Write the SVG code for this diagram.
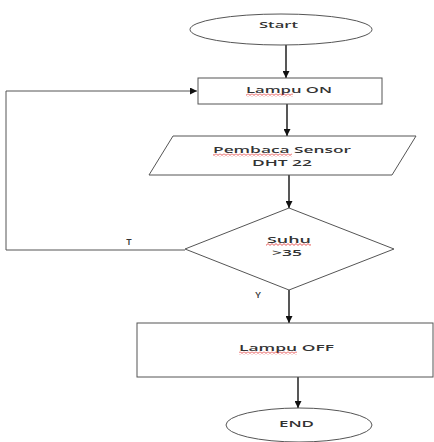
<svg xmlns="http://www.w3.org/2000/svg" width="434" height="442" viewBox="0 0 434 442">
<style>
.shape{fill:#fff;stroke:#555;stroke-width:1}
.conn{fill:none;stroke:#111;stroke-width:1.4}
.loop{fill:none;stroke:#555;stroke-width:1}
.t{font-family:"Open Sans","DejaVu Sans",sans-serif;font-size:9.5px;fill:#333;text-anchor:middle;font-weight:600}
.sq{fill:url(#wave)}
</style>
<defs>
<marker id="ah" viewBox="0 0 10 10" refX="10" refY="5" markerWidth="7" markerHeight="7" markerUnits="userSpaceOnUse" orient="auto">
<path d="M0,0 L10,5 L0,10 z" fill="#111"/>
</marker>
<pattern id="wave" width="4" height="3" patternUnits="userSpaceOnUse">
<path d="M0,0.6 L2,2.4 L4,0.6" fill="none" stroke="#e03030" stroke-width="0.8"/>
</pattern>
</defs>
<rect width="434" height="442" fill="#fff"/>
<g id="connectors">
<line class="conn" x1="286" y1="45" x2="286" y2="78" marker-end="url(#ah)"/>
<line class="conn" x1="287" y1="104" x2="287" y2="136" marker-end="url(#ah)"/>
<line class="conn" x1="289" y1="175" x2="289" y2="208" marker-end="url(#ah)"/>
<line class="conn" x1="289" y1="290" x2="289" y2="323" marker-end="url(#ah)"/>
<line class="conn" x1="298" y1="377" x2="298" y2="408" marker-end="url(#ah)"/>
<polyline class="loop" points="185,250 6,250 6,91 197,91" marker-end="url(#ah)"/>
<text class="t" x="129" y="245">T</text>
<text class="t" x="258" y="298">Y</text>
</g>
<g id="start">
<ellipse class="shape" cx="281" cy="29.5" rx="91" ry="15.5"/>
<text class="t" x="278.5" y="28" textLength="39" lengthAdjust="spacingAndGlyphs">Start</text>
</g>
<g id="lampu-on">
<rect class="shape" x="198" y="78" width="184" height="26"/>
<text class="t" x="289" y="93" textLength="86" lengthAdjust="spacingAndGlyphs">Lampu ON</text>
<rect class="sq" x="246" y="93.5" width="47" height="3"/>
</g>
<g id="pembaca">
<polygon class="shape" points="173,136 416,136 392,175 149,175"/>
<text class="t" x="282" y="153" textLength="138" lengthAdjust="spacingAndGlyphs">Pembaca Sensor</text>
<text class="t" x="282" y="165.5" textLength="60" lengthAdjust="spacingAndGlyphs">DHT 22</text>
<rect class="sq" x="213" y="153.5" width="79" height="3"/>
</g>
<g id="suhu">
<polygon class="shape" points="289,208 394,249 289,290 185,249"/>
<text class="t" x="289" y="242.5" textLength="44" lengthAdjust="spacingAndGlyphs">Suhu</text>
<text class="t" x="287" y="256" textLength="30" lengthAdjust="spacingAndGlyphs">&gt;35</text>
<rect class="sq" x="266" y="243" width="45" height="3"/>
</g>
<g id="lampu-off">
<rect class="shape" x="137" y="323" width="296" height="54"/>
<text class="t" x="286.5" y="351" textLength="95" lengthAdjust="spacingAndGlyphs">Lampu OFF</text>
<rect class="sq" x="239" y="351.5" width="58" height="3"/>
</g>
<g id="end">
<ellipse class="shape" cx="299" cy="425" rx="73" ry="17"/>
<text class="t" x="296.5" y="427" textLength="35" lengthAdjust="spacingAndGlyphs">END</text>
</g>
</svg>
